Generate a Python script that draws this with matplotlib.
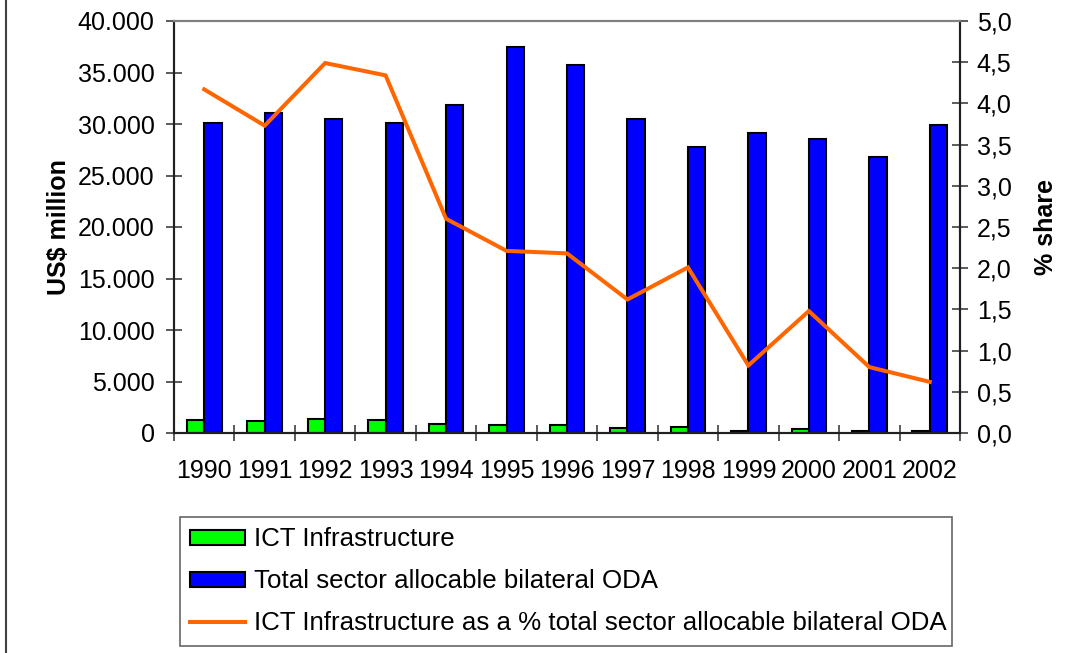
import matplotlib
matplotlib.use("Agg")
import matplotlib.pyplot as plt
import numpy as np
from matplotlib.lines import Line2D
from matplotlib.patches import Patch
from matplotlib.ticker import FuncFormatter, MultipleLocator

years = [1990, 1991, 1992, 1993, 1994, 1995, 1996, 1997, 1998, 1999, 2000, 2001, 2002]
ict_infra = [1250, 1160, 1370, 1310, 830, 825, 780, 495, 560, 240, 420, 215, 185]
total_oda = [30070, 31040, 30460, 30070, 31820, 37450, 35700, 30460, 27740, 29100, 28540, 26800, 29870]
ict_share = [4.17, 3.73, 4.49, 4.34, 2.60, 2.21, 2.18, 1.62, 2.01, 0.82, 1.48, 0.80, 0.62]

labels = [
    "ICT Infrastructure",
    "Total sector allocable bilateral ODA",
    "ICT Infrastructure as a % total sector allocable bilateral ODA",
]

plt.rcParams["font.family"] = ["Liberation Sans", "DejaVu Sans"]
FS = 18
LEG_FS = 18.6

W, H = 1069, 653
fig = plt.figure(figsize=(W / 100, H / 100), dpi=100)
ax = fig.add_axes([174 / W, 1 - 433 / H, (960 - 174) / W, (433 - 21) / H])
ax2 = ax.twinx()

x = np.arange(len(years))
bw = 1 / 3.5
ax.bar(x - bw / 2, ict_infra, bw, color="#00ff00", edgecolor="black", linewidth=1.5)
ax.bar(x + bw / 2, total_oda, bw, color="#0000ff", edgecolor="black", linewidth=1.5)
ax2.plot(x, ict_share, color="#ff6600", linewidth=2.9, solid_joinstyle="miter")

ax.set_xlim(-0.5, len(years) - 0.5)
ax.set_ylim(0, 40000)
ax2.set_ylim(0, 5.0)
ax.yaxis.set_major_locator(MultipleLocator(5000))
ax2.yaxis.set_major_locator(MultipleLocator(0.5))
ax.yaxis.set_major_formatter(FuncFormatter(lambda v, p: f"{int(v):,}".replace(",", ".")))
ax2.yaxis.set_major_formatter(FuncFormatter(lambda v, p: f"{v:.1f}".replace(".", ",")))

ax.set_xticks(x)
ax.set_xticklabels([str(y) for y in years])
ax.set_xticks(np.arange(-0.5, len(years)), minor=True)
ax.tick_params(axis="x", which="major", length=0, pad=19, labelsize=FS)
ax.tick_params(axis="x", which="minor", direction="inout", length=12, width=1.2, color="#404040")
ax.tick_params(axis="y", direction="inout", length=12, width=1.2, color="#404040", pad=8, labelsize=FS)
ax2.tick_params(axis="y", direction="inout", length=12, width=1.2, color="#404040", pad=6, labelsize=FS)

for a in (ax, ax2):
    for side in ("left", "right", "bottom"):
        a.spines[side].set_color("#202020")
        a.spines[side].set_linewidth(1.5)
    a.spines["top"].set_color("#808080")
    a.spines["top"].set_linewidth(1.5)

ax.set_ylabel("US$ million", fontsize=FS, fontweight="bold", labelpad=5)
ax2.set_ylabel("% share", fontsize=FS, fontweight="bold", labelpad=16)

handles = [
    Patch(facecolor="#00ff00", edgecolor="black", linewidth=1.5),
    Patch(facecolor="#0000ff", edgecolor="black", linewidth=1.5),
    Line2D([], [], color="#ff6600", linewidth=2.9),
]
leg = fig.legend(
    handles, labels,
    loc="upper left",
    bbox_to_anchor=(180 / W, 1 - 648 / H, (952 - 180) / W, (648 - 517) / H),
    mode="expand",
    fontsize=LEG_FS,
    frameon=True,
    fancybox=False,
    borderaxespad=0,
    borderpad=0.4,
    labelspacing=0.7,
    handlelength=2.1,
    handleheight=0.5,
    handletextpad=0.35,
)
leg.get_frame().set_edgecolor("#404040")
leg.get_frame().set_linewidth(1.2)

fig.add_artist(Line2D([6 / W, 6 / W], [0, 1], color="#404040", linewidth=1.5, transform=fig.transFigure))

fig.savefig("out.png", dpi=100)
